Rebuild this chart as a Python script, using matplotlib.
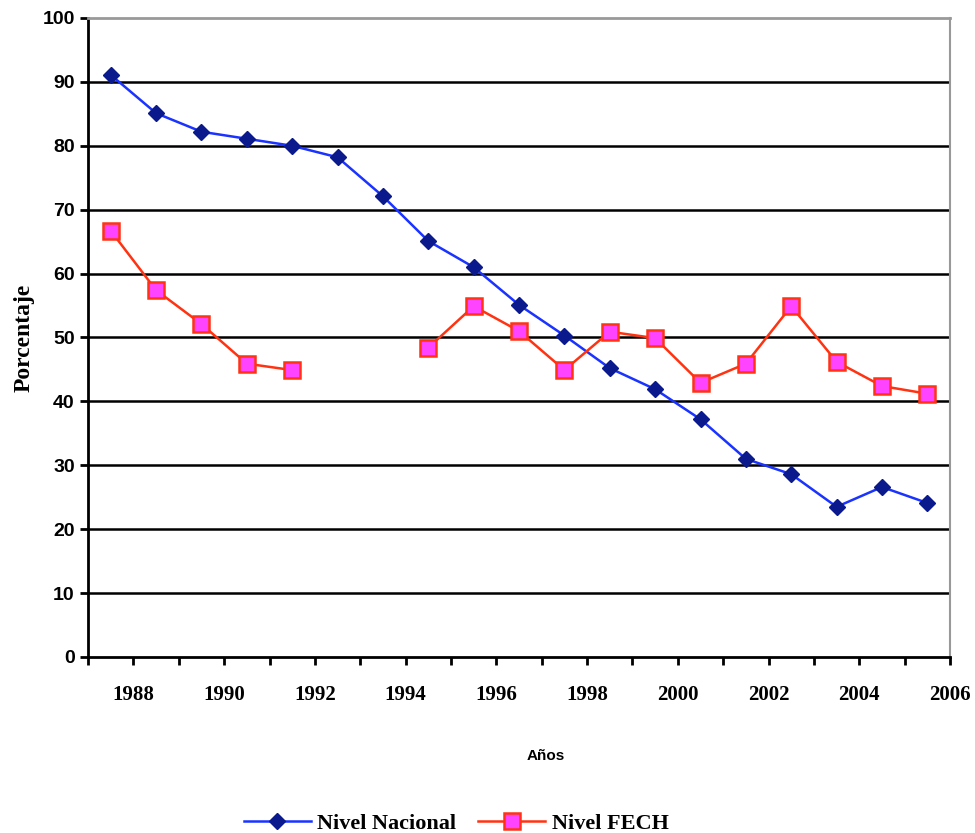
import numpy as np
import matplotlib.pyplot as plt
from matplotlib.ticker import MultipleLocator, FuncFormatter

# datos
years = np.arange(1987.5, 2006, 1.0)
nacional = [91.1, 85.1, 82.2, 81.1, 80.0, 78.2, 72.1, 65.1, 61.0, 55.1,
            50.3, 45.2, 41.9, 37.2, 31.0, 28.6, 23.5, 26.6, 24.1]
fech = [66.7, 57.4, 52.1, 45.9, 44.9, np.nan, np.nan, 48.4, 54.9, 51.0,
        44.9, 50.9, 49.9, 42.9, 45.9, 54.9, 46.2, 42.4, 41.2]

fig = plt.figure(figsize=(9.75, 8.33), dpi=100)
ax = fig.add_axes([0.0903, 0.2113, 0.8841, 0.7671])

ax.plot(years, nacional, color='#1a33ff', linewidth=1.8, marker='D', markersize=8,
        markerfacecolor='#0a1a8c', markeredgecolor='#0a1a8c', label='Nivel Nacional', zorder=3)
ax.plot(years, fech, color='#ff3311', linewidth=1.8, marker='s', markersize=12,
        markerfacecolor='#ff44ff', markeredgecolor='#ff3311', markeredgewidth=1.8,
        label='Nivel FECH', zorder=3)

ax.set_xlim(1987, 2006)
ax.set_ylim(0, 100)
ax.yaxis.set_major_locator(MultipleLocator(10))
ax.xaxis.set_major_locator(MultipleLocator(1))
ax.xaxis.set_major_formatter(FuncFormatter(lambda v, p: '%d' % v if int(round(v)) % 2 == 0 and v > 1987 else ''))

for y in range(10, 100, 10):
    ax.axhline(y, color='black', linewidth=1.8, zorder=1)

ax.spines['left'].set_linewidth(2)
ax.spines['bottom'].set_linewidth(2)
ax.spines['top'].set_color('#999999')
ax.spines['right'].set_color('#999999')
ax.spines['top'].set_linewidth(2)
ax.spines['right'].set_linewidth(1.5)

ax.tick_params(axis='both', direction='out', length=6, width=2)
ax.tick_params(axis='x', pad=14)
for lab in ax.get_yticklabels():
    lab.set_fontfamily('Liberation Sans')
    lab.set_fontweight('bold')
    lab.set_fontsize(14)
for lab in ax.get_xticklabels():
    lab.set_fontfamily('Liberation Serif')
    lab.set_fontweight('bold')
    lab.set_fontsize(15)

ax.set_ylabel('Porcentaje', fontfamily='Liberation Serif', fontweight='bold', fontsize=17, labelpad=6)
ax.set_xlabel('Años', fontfamily='Liberation Sans', fontweight='bold', fontsize=11, labelpad=32)
ax.xaxis.label.set_x(0.531)

fig.legend(loc='center', bbox_to_anchor=(0.468, 0.011), ncol=2, frameon=False,
           prop={'family': 'Liberation Serif', 'weight': 'bold', 'size': 16},
           handlelength=3, columnspacing=1.0, handletextpad=0.3)

plt.savefig('out.png', dpi=100)
